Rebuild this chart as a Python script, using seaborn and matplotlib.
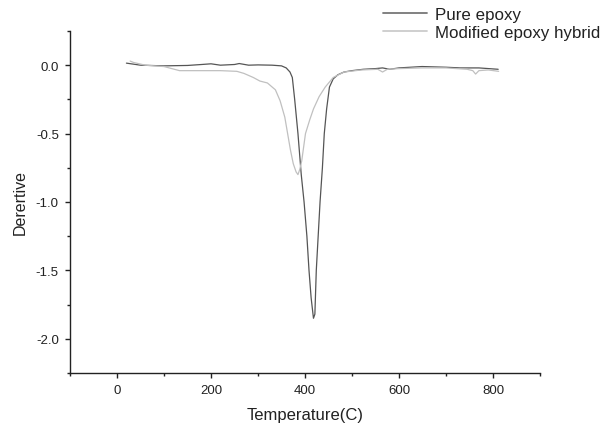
import numpy as np
import pandas as pd
import matplotlib
matplotlib.use("Agg")
import matplotlib.pyplot as plt
import seaborn as sns
from matplotlib.ticker import MultipleLocator, FormatStrFormatter

# ===== values (DTG curves) =====
pure_temp = [20, 50, 100, 150, 180, 200, 220, 250, 260, 280, 300, 330, 350, 360,
             368, 373, 378, 385, 392, 398, 404, 408.5, 413, 418, 421, 424, 428,
             432, 437, 441, 446, 452, 460, 470, 483, 500, 524, 550, 565, 580,
             600, 649, 700, 730, 770, 811]
pure_deriv = [0.015, 0.0, -0.005, -0.002, 0.005, 0.01, 0.0, 0.005, 0.012, 0.0,
              0.002, 0.0, -0.005, -0.02, -0.05, -0.09, -0.25, -0.5, -0.8, -1.0,
              -1.25, -1.5, -1.7, -1.85, -1.82, -1.5, -1.25, -1.0, -0.75, -0.5,
              -0.32, -0.16, -0.1, -0.07, -0.05, -0.04, -0.03, -0.025, -0.02,
              -0.03, -0.02, -0.01, -0.015, -0.02, -0.02, -0.03]

mod_temp = [28, 35, 60, 100, 133, 180, 220, 255, 270, 290, 304, 320, 337, 347,
            357, 363, 369, 375, 381, 385, 389, 393, 397, 401, 410, 418, 430,
            443, 460, 483, 520, 555, 565, 575, 600, 650, 700, 745, 757, 763,
            770, 790, 812]
mod_deriv = [0.03, 0.02, 0.0, -0.01, -0.04, -0.04, -0.04, -0.045, -0.06, -0.09,
             -0.116, -0.13, -0.18, -0.26, -0.38, -0.5, -0.62, -0.72, -0.78,
             -0.8, -0.76, -0.7, -0.6, -0.5, -0.4, -0.32, -0.23, -0.16, -0.09,
             -0.05, -0.035, -0.03, -0.05, -0.03, -0.025, -0.02, -0.02, -0.03,
             -0.04, -0.065, -0.04, -0.035, -0.045]

series_names = ["Pure epoxy", "Modified epoxy hybrid"]
series_colors = ["#555555", "#c0c0c0"]

df = pd.concat([
    pd.DataFrame({"Temperature": pure_temp, "Derivative": pure_deriv, "Sample": series_names[0]}),
    pd.DataFrame({"Temperature": mod_temp, "Derivative": mod_deriv, "Sample": series_names[1]}),
], ignore_index=True)

sns.set_style("ticks")
plt.rcParams["font.family"] = ["Liberation Sans", "DejaVu Sans"]

fig = plt.figure(figsize=(6, 4.31), dpi=100)
ax = fig.add_axes([0.1167, 0.1323, 0.7833, 0.7935])

sns.lineplot(data=df, x="Temperature", y="Derivative", hue="Sample",
             palette=dict(zip(series_names, series_colors)), sort=False,
             estimator=None, linewidth=0.9, ax=ax, legend=False)

ax.set_xlim(-100, 900)
ax.set_ylim(-2.25, 0.25)
ax.xaxis.set_major_locator(MultipleLocator(200))
ax.xaxis.set_minor_locator(MultipleLocator(100))
ax.yaxis.set_major_locator(MultipleLocator(0.5))
ax.yaxis.set_minor_locator(MultipleLocator(0.25))
ax.yaxis.set_major_formatter(FormatStrFormatter("%.1f"))
ax.tick_params(which="both", direction="out", labelsize=9.5, color="#222222",
               labelcolor="#222222", width=1.0)
ax.tick_params(which="major", length=3.6, pad=4.5)
ax.tick_params(which="minor", length=2.4)
sns.despine(ax=ax)
for s in ["left", "bottom"]:
    ax.spines[s].set_color("#222222")
    ax.spines[s].set_linewidth(1.0)

ax.set_xlabel("Temperature(C)", fontsize=12, color="#222222", labelpad=8)
ax.set_ylabel("Derertive", fontsize=11.5, color="#222222", labelpad=6)

# legend sits above the plot, partly outside the axes, as in the reference
handles = [plt.Line2D([], [], color=c, linewidth=1.3) for c in ["#777777", "#cccccc"]]
fig.legend(handles, series_names, loc="upper left", bbox_to_anchor=(0.639, 0.981),
           frameon=False, fontsize=12.2, handlelength=2.6, handletextpad=0.45,
           labelspacing=0.18, borderpad=0, borderaxespad=0, labelcolor="#222222")

fig.savefig("out.png", dpi=100)
